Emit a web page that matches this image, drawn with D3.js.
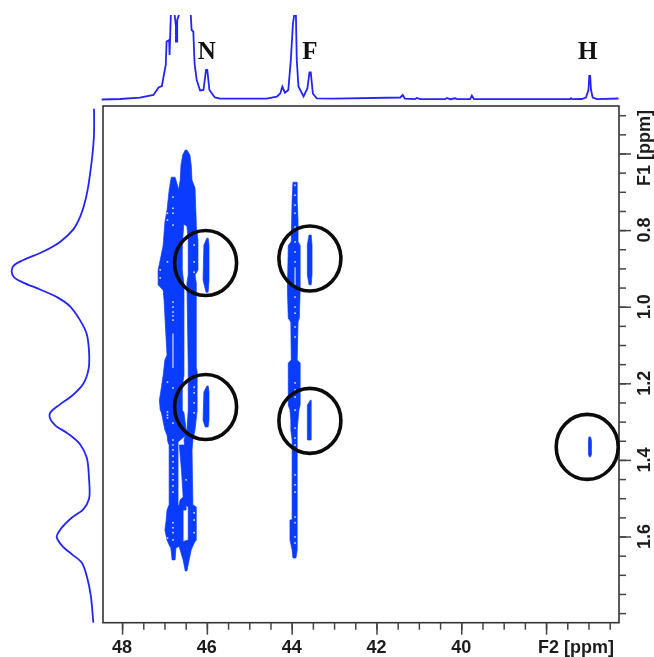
<!DOCTYPE html>
<html>
<head>
<meta charset="utf-8">
<script src="https://d3js.org/d3.v7.min.js"></script>
<style>
  html, body { margin: 0; padding: 0; background: #fff; }
  svg { display: block; filter: blur(0.35px); }
  .label { font-family: "Liberation Sans", sans-serif; font-weight: bold; font-size: 18px; fill: #1c1c1c; }
  .peak { font-family: "Liberation Serif", serif; font-weight: bold; font-size: 25px; fill: #111; }
</style>
</head>
<body>
<script>
// tick labels, axis names
const f2Labels = [48, 46, 44, 42, 40];
const f2Major = [48, 46, 44, 42, 40, 38];
const f2Minor = [48, 47.5, 47, 46.5, 46, 45.5, 45, 44.5, 44, 43.5, 43, 42.5, 42, 41.5, 41, 40.5, 40, 39.5, 39, 38.5, 38, 37.5, 37, 36.5];
const f1Labels = [0.8, 1.0, 1.2, 1.4, 1.6];
const f1Major = [0.6, 0.8, 1.0, 1.2, 1.4, 1.6];
const f1Minor = [0.5, 0.55, 0.6, 0.65, 0.7, 0.75, 0.8, 0.85, 0.9, 0.95, 1.0, 1.05, 1.1, 1.15, 1.2, 1.25, 1.3, 1.35, 1.4, 1.45, 1.5, 1.55, 1.6, 1.65, 1.7, 1.75, 1.8];
const f2Name = "F2 [ppm]";
const f1Name = "F1 [ppm]";

// peak names on the top trace [name, F2]
const peakNames = [["N", 46.0], ["F", 43.57], ["H", 37.02]];

// circled cross peaks [F2, F1]
const circled = [[46.03, 0.886], [43.57, 0.874], [46.03, 1.262], [43.57, 1.298], [37.03, 1.366]];

// top projection [F2, intensity]
const topTrace = [
  [48.48, 0], [48.05, 0.5], [47.58, 1.8], [47.26, 4.5], [47.14, 12], [47.06, 13.5], [47.03, 21], [46.97, 34.5],
  [46.95, 58], [46.89, 59.5], [46.88, 44.5], [46.85, 84.5], [46.84, 110], [46.77, 110], [46.76, 84.5], [46.73, 73],
  [46.73, 58], [46.70, 58], [46.70, 79.5], [46.66, 84.5], [46.65, 110], [46.40, 110], [46.38, 84.5], [46.36, 69.5],
  [46.32, 68], [46.29, 36], [46.24, 19.5], [46.16, 9], [46.08, 9.5], [46.02, 29.5], [45.99, 29.5], [45.94, 9.5],
  [45.81, 2], [45.69, 0.8], [44.59, 0.8], [44.35, 2.8], [44.27, 6], [44.22, 12.8], [44.16, 6.8], [44.08, 9.5],
  [44.02, 39.5], [43.97, 76], [43.94, 84.5], [43.93, 110], [43.91, 110], [43.90, 84.5], [43.88, 39.5], [43.84, 13],
  [43.72, 3], [43.63, 11], [43.58, 27], [43.55, 27], [43.50, 6], [43.41, 1.2], [43.02, 0.8], [41.44, 2],
  [41.38, 4.5], [41.33, 0.8], [41.09, 0.3], [41.05, 1.5], [40.97, 0.3], [40.38, 0.3], [40.34, 1.5], [40.26, 0.3],
  [40.15, 1.2], [40.09, 0.3], [39.79, 0.3], [39.75, 3.8], [39.70, 0.3], [37.43, 0.3], [37.41, 1.3], [37.38, 0.3],
  [37.16, 0.5], [37.06, 2], [37.0, 9.5], [36.98, 23.5], [36.96, 23.5], [36.94, 9.5], [36.90, 2], [36.80, 0.3], [36.29, 1]
];

// left projection [F1, intensity]
const leftTrace = [
  [0.483, 0], [0.551, 0], [0.596, 1.3], [0.641, 3.3], [0.685, 5.7], [0.726, 9], [0.766, 14], [0.798, 20.7],
  [0.831, 34], [0.856, 50.7], [0.878, 70.7], [0.892, 80], [0.905, 82.3], [0.923, 80], [0.937, 70.7], [0.955, 54],
  [0.977, 35.7], [0.999, 24], [1.035, 14], [1.071, 7.3], [1.116, 5], [1.161, 5.3], [1.201, 10.7], [1.233, 22.3],
  [1.255, 34], [1.278, 44], [1.291, 44], [1.309, 39], [1.332, 25.7], [1.359, 14], [1.394, 7.3], [1.448, 5],
  [1.502, 5], [1.529, 10.7], [1.551, 22.3], [1.583, 34], [1.601, 37.3], [1.623, 32.3], [1.646, 22.3], [1.668, 12.3],
  [1.709, 6.7], [1.753, 3.3], [1.825, 0.7]
];

// contour bands, each row [F1, F2 left edge, F2 right edge]
const bandLeft = [
  [0.662, 46.84, 46.75], [0.696, 46.89, 46.66], [0.748, 46.94, 46.56], [0.779, 46.99, 46.54], [0.839, 47.03, 46.58],
  [0.878, 47.10, 46.58], [0.904, 47.15, 46.58], [0.943, 47.15, 46.54], [0.957, 47.03, 46.54], [0.983, 47.01, 46.54],
  [1.087, 46.96, 46.54], [1.126, 46.94, 46.54], [1.139, 46.99, 46.54], [1.178, 47.03, 46.54], [1.209, 47.07, 46.58],
  [1.244, 47.12, 46.58], [1.270, 47.10, 46.58], [1.277, 47.07, 46.54], [1.322, 46.99, 46.49], [1.335, 46.94, 46.49],
  [1.353, 46.92, 46.68], [1.361, 46.89, 46.68], [1.517, 46.89, 46.68], [1.531, 46.94, 46.56], [1.557, 46.96, 46.56],
  [1.583, 46.99, 46.56], [1.609, 46.94, 46.56], [1.622, 46.89, 46.60], [1.630, 46.85, 46.73], [1.661, 46.82, 46.75]
];
const bandRight = [
  [0.591, 46.51, 46.47], [0.604, 46.57, 46.40], [0.630, 46.61, 46.37], [0.670, 46.63, 46.35], [0.690, 46.66, 46.28],
  [0.779, 46.61, 46.25], [0.790, 46.47, 46.25], [0.826, 46.44, 46.21], [0.904, 46.44, 46.21], [0.917, 46.44, 46.28],
  [0.938, 46.47, 46.25], [1.157, 46.44, 46.25], [1.170, 46.44, 46.23], [1.270, 46.44, 46.23], [1.322, 46.47, 46.28],
  [1.348, 46.54, 46.33], [1.374, 46.51, 46.35], [1.517, 46.51, 46.33], [1.523, 46.44, 46.25], [1.609, 46.44, 46.25],
  [1.617, 46.68, 46.30], [1.635, 46.63, 46.37], [1.661, 46.56, 46.42], [1.690, 46.51, 46.47]
];
const bandCross = [[1.361, 46.65, 46.51], [1.426, 46.60, 46.49], [1.497, 46.56, 46.49], [1.504, 46.63, 46.49], [1.531, 46.68, 46.49]];
const bandF = [
  [0.675, 43.97, 43.87], [0.722, 43.99, 43.87], [0.774, 44.00, 43.85], [0.830, 44.01, 43.85], [0.840, 44.08, 43.80],
  [0.957, 44.10, 43.80], [1.030, 44.08, 43.82], [1.040, 44.02, 43.85], [1.139, 44.01, 43.87], [1.147, 44.08, 43.80],
  [1.257, 44.08, 43.80], [1.270, 44.04, 43.83], [1.296, 44.02, 43.85], [1.322, 44.02, 43.87], [1.348, 43.99, 43.87],
  [1.556, 43.99, 43.87], [1.557, 44.04, 43.87], [1.609, 44.04, 43.87], [1.635, 43.99, 43.87], [1.656, 43.97, 43.90]
];
const peakN1 = [[0.821, 46.00, 45.97], [0.839, 46.07, 45.95], [0.930, 46.09, 45.95], [0.962, 46.02, 45.97]];
const peakN2 = [[1.207, 46.00, 45.97], [1.223, 46.07, 45.95], [1.296, 46.09, 45.95], [1.314, 46.04, 45.97]];
const peakF1 = [[0.813, 43.59, 43.54], [0.839, 43.63, 43.52], [0.917, 43.63, 43.52], [0.943, 43.59, 43.54]];
const peakF2 = [[1.244, 43.56, 43.54], [1.257, 43.63, 43.54], [1.348, 43.63, 43.54]];
const peakH = [[1.340, 36.99, 36.95], [1.350, 37.0, 36.93], [1.385, 37.0, 36.93], [1.392, 36.98, 36.95]];

// small gaps left inside the contours: [F2, list of F1]
const gaps = [
  [46.80, [0.714, 0.743, 0.756, 0.787, 0.988, 1.001, 1.014, 1.024, 1.035, 1.212, 1.304, 1.348, 1.361, 1.374, 1.390, 1.405, 1.421, 1.437, 1.452, 1.468, 1.484, 1.564, 1.577, 1.590, 1.609]],
  [46.93, [0.756, 0.774, 0.883, 1.197, 1.275, 1.283, 1.290, 1.604]],
  [47.10, [0.904, 0.925]],
  [46.30, [0.839, 0.883, 0.910, 1.210, 1.225, 1.251, 1.277, 1.538, 1.557, 1.590]],
  [46.49, [1.452]],
  [43.92, [0.683, 0.709, 0.735, 0.756, 0.792, 0.831, 0.857, 0.883, 0.975, 1.001, 1.017, 1.053, 1.079, 1.199, 1.217, 1.236, 1.270, 1.317, 1.343, 1.361, 1.439, 1.465, 1.484, 1.549, 1.564, 1.601, 1.617]]
];
// longer gaps [F2, F1 start, F1 end]
const gapLines = [[46.80, 1.07, 1.16], [43.92, 0.897, 0.949]];

const width = 654;
const height = 657;
const blue = "#0a3cff";
const traceBlue = "#2424f5";
const inkGrey = "#444";

const x = d3.scaleLinear().domain([48.45, 36.28]).range([103, 619]);
const y = d3.scaleLinear().domain([0.476, 1.825]).range([106, 622.7]);
const topY = d3.scaleLinear().domain([0, 100]).range([99.5, -0.5]);
const leftX = d3.scaleLinear().domain([0, 100]).range([94, -6]);

const svg = d3.select("body").append("svg")
  .attr("width", width)
  .attr("height", height);

// projections
svg.append("clipPath").attr("id", "topClip")
  .append("rect").attr("x", 0).attr("y", 15).attr("width", width).attr("height", 90);

svg.append("path")
  .datum(topTrace)
  .attr("clip-path", "url(#topClip)")
  .attr("fill", "none")
  .attr("stroke", traceBlue)
  .attr("stroke-width", 1.8)
  .attr("d", d3.line().x(d => x(d[0])).y(d => topY(d[1])));

svg.append("path")
  .datum(leftTrace)
  .attr("fill", "none")
  .attr("stroke", traceBlue)
  .attr("stroke-width", 1.8)
  .attr("d", d3.line().x(d => leftX(d[1])).y(d => y(d[0])).curve(d3.curveCatmullRom));

// contours
const band = d3.area().y(d => y(d[0])).x0(d => x(d[1])).x1(d => x(d[2]));
const bands = [bandLeft, bandRight, bandCross, bandF, peakN1, peakN2, peakF1, peakF2, peakH];
svg.append("g").selectAll("path")
  .data(bands)
  .enter().append("path")
    .attr("fill", blue)
    .attr("stroke", blue)
    .attr("stroke-width", 0.7)
    .attr("stroke-linejoin", "round")
    .attr("d", band);

const gapDots = gaps.flatMap(g => g[1].map(v => [g[0], v]));
svg.append("g").selectAll("rect")
  .data(gapDots)
  .enter().append("rect")
    .attr("x", d => x(d[0]) - 0.8)
    .attr("y", d => y(d[1]) - 0.8)
    .attr("width", 1.6)
    .attr("height", 1.6)
    .attr("fill", "#d8e0ff");

svg.append("g").selectAll("line")
  .data(gapLines)
  .enter().append("line")
    .attr("x1", d => x(d[0])).attr("x2", d => x(d[0]))
    .attr("y1", d => y(d[1])).attr("y2", d => y(d[2]))
    .attr("stroke", "#c4cfff")
    .attr("stroke-width", 1.3);

// frame
svg.append("rect")
  .attr("x", x.range()[0])
  .attr("y", y.range()[0])
  .attr("width", x.range()[1] - x.range()[0])
  .attr("height", y.range()[1] - y.range()[0])
  .attr("fill", "none")
  .attr("stroke", "#333")
  .attr("stroke-width", 1.6);

// axes, minor and major ticks separately
function drawAxis(axis, transform) {
  const g = svg.append("g").attr("transform", transform).call(axis.tickFormat(""));
  g.select(".domain").remove();
  g.selectAll(".tick line").attr("stroke", inkGrey).attr("stroke-width", 1.5);
}
drawAxis(d3.axisBottom(x).tickValues(f2Minor).tickSize(7), `translate(0,${y.range()[1]})`);
drawAxis(d3.axisBottom(x).tickValues(f2Major).tickSize(12), `translate(0,${y.range()[1]})`);
drawAxis(d3.axisRight(y).tickValues(f1Minor).tickSize(7), `translate(${x.range()[1]},0)`);
drawAxis(d3.axisRight(y).tickValues(f1Major).tickSize(12), `translate(${x.range()[1]},0)`);

// tick labels
svg.append("g").selectAll("text")
  .data(f2Labels)
  .enter().append("text")
    .attr("class", "label")
    .attr("x", d => x(d))
    .attr("y", 653)
    .attr("text-anchor", "middle")
    .text(d => d);

svg.append("g").selectAll("text")
  .data(f1Labels)
  .enter().append("text")
    .attr("class", "label")
    .attr("text-anchor", "middle")
    .attr("transform", d => `translate(650,${y(d)}) rotate(-90)`)
    .text(d => d.toFixed(1));

svg.append("text")
  .attr("class", "label")
  .attr("x", 576)
  .attr("y", 653)
  .attr("text-anchor", "middle")
  .text(f2Name);

svg.append("text")
  .attr("class", "label")
  .attr("text-anchor", "middle")
  .attr("transform", "translate(650,148) rotate(-90)")
  .text(f1Name);

// peak names
svg.append("g").selectAll("text")
  .data(peakNames)
  .enter().append("text")
    .attr("class", "peak")
    .attr("x", d => x(d[1]))
    .attr("y", 59)
    .attr("text-anchor", "middle")
    .text(d => d[0]);

// circles
svg.append("g").selectAll("ellipse")
  .data(circled)
  .enter().append("ellipse")
    .attr("cx", d => x(d[0]))
    .attr("cy", d => y(d[1]))
    .attr("rx", 31)
    .attr("ry", 32.5)
    .attr("fill", "none")
    .attr("stroke", "#0b0b0b")
    .attr("stroke-width", 3.6);
</script>
</body>
</html>
